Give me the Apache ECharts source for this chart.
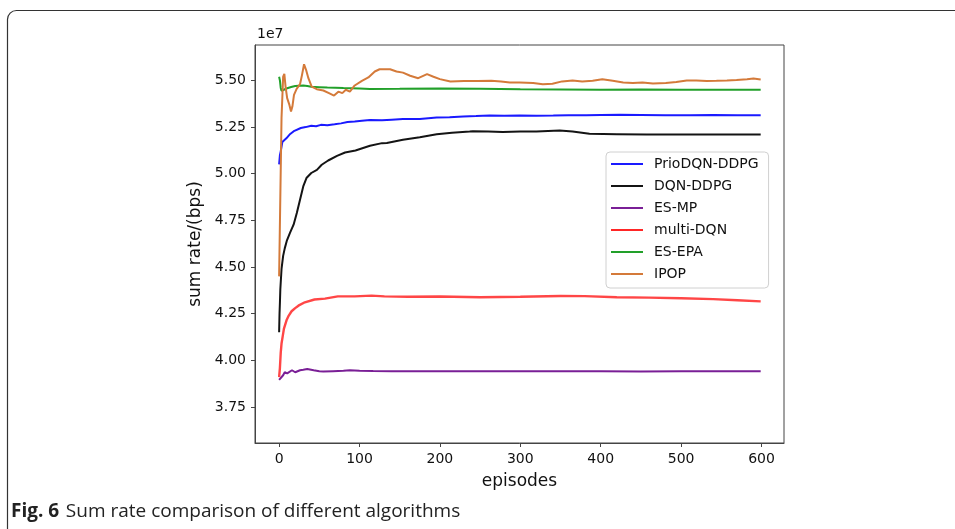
<!DOCTYPE html>
<html>
<head>
<meta charset="utf-8">
<script src="https://cdn.jsdelivr.net/npm/echarts@6/dist/echarts.min.js"></script>
<style>
html,body{margin:0;padding:0;background:#fff;}
#chart{width:955px;height:529px;}
</style>
</head>
<body>
<div id="chart"></div>
<script>
// values in units of 1e7 bps
var xTicks = [0, 100, 200, 300, 400, 500, 600];
var yTicks = [3.75, 4.00, 4.25, 4.50, 4.75, 5.00, 5.25, 5.50];
var seriesNames = ['PrioDQN-DDPG', 'DQN-DDPG', 'ES-MP', 'multi-DQN', 'ES-EPA', 'IPOP'];

var prioEp  = [0, 1, 2, 4, 6, 9, 13, 19, 27, 33, 40, 46, 52, 60, 69, 77, 85, 94, 103, 113, 128, 140, 154, 175, 196, 212, 229, 245, 262, 280, 299, 320, 341, 360, 382, 400, 424, 450, 480, 510, 540, 570, 599];
var prioVal = [5.05, 5.10, 5.12, 5.17, 5.18, 5.19, 5.21, 5.23, 5.245, 5.25, 5.257, 5.255, 5.262, 5.26, 5.265, 5.27, 5.277, 5.28, 5.284, 5.288, 5.287, 5.29, 5.293, 5.293, 5.301, 5.303, 5.307, 5.309, 5.312, 5.311, 5.312, 5.311, 5.312, 5.313, 5.314, 5.315, 5.316, 5.315, 5.314, 5.314, 5.315, 5.314, 5.314];

var dqnEp  = [0, 0.5, 1, 1.5, 3, 5, 7, 9.5, 13.5, 18, 22, 26, 30, 34, 40, 47, 53, 61, 72, 82, 95, 113, 128, 134, 154, 175, 196, 215, 237, 241, 260, 278, 300, 320, 349, 365, 386, 420, 457, 500, 550, 599];
var dqnVal = [4.15, 4.25, 4.31, 4.38, 4.49, 4.56, 4.60, 4.64, 4.683, 4.727, 4.79, 4.861, 4.932, 4.977, 5.004, 5.021, 5.048, 5.071, 5.096, 5.114, 5.125, 5.15, 5.164, 5.165, 5.182, 5.196, 5.212, 5.22, 5.226, 5.228, 5.226, 5.224, 5.226, 5.226, 5.232, 5.226, 5.214, 5.212, 5.21, 5.21, 5.21, 5.21];

var esmpEp  = [0, 2, 5, 7, 10, 12, 16, 20, 26, 30, 35, 43, 50, 55, 67, 80, 88, 100, 117, 140, 158, 199, 250, 300, 350, 400, 450, 500, 550, 599];
var esmpVal = [3.895, 3.905, 3.92, 3.936, 3.93, 3.924, 3.947, 3.936, 3.947, 3.95, 3.954, 3.947, 3.942, 3.94, 3.942, 3.944, 3.947, 3.944, 3.943, 3.942, 3.941, 3.942, 3.942, 3.941, 3.941, 3.941, 3.94, 3.941, 3.941, 3.941];

var mdqnEp  = [0, 1, 2, 3, 4.5, 6, 9.5, 12, 15.5, 20, 24, 32, 44, 57, 73, 94, 115, 131, 160, 200, 250, 300, 350, 380, 420, 460, 500, 540, 570, 599];
var mdqnVal = [3.91, 3.96, 4.04, 4.09, 4.13, 4.17, 4.218, 4.24, 4.263, 4.28, 4.293, 4.311, 4.326, 4.331, 4.343, 4.343, 4.347, 4.343, 4.341, 4.342, 4.338, 4.341, 4.345, 4.344, 4.338, 4.336, 4.333, 4.328, 4.322, 4.316];

var esepaEp  = [0, 1, 2, 3, 5, 10, 15, 20, 25, 30, 35, 40, 50, 60, 80, 100, 113, 150, 200, 250, 300, 350, 400, 450, 500, 550, 599];
var esepaVal = [5.52, 5.50, 5.46, 5.445, 5.45, 5.458, 5.465, 5.47, 5.472, 5.473, 5.47, 5.466, 5.464, 5.462, 5.459, 5.457, 5.454, 5.455, 5.457, 5.455, 5.453, 5.452, 5.45, 5.451, 5.45, 5.45, 5.45];

var ipopEp  = [0, 1.5, 3, 5, 6.5, 8, 10, 12.8, 14.8, 16.5, 18.5, 21.8, 26, 28.5, 31, 33.5, 36.4, 40.5, 46.8, 55, 62, 68.3, 73.7, 78.6, 83, 88, 94, 103, 111, 119, 125, 138, 146, 154, 163, 173, 184, 192, 200, 213, 230, 247, 264, 276, 287, 299, 316, 328, 340, 352, 365, 377, 390, 402, 415, 428, 440, 452, 465, 481, 494, 507, 519, 532, 544, 557, 569, 582, 590, 599];
var ipopVal = [4.45, 4.45, 5.30, 5.52, 5.535, 5.467, 5.405, 5.369, 5.334, 5.36, 5.423, 5.455, 5.48, 5.53, 5.587, 5.557, 5.512, 5.467, 5.453, 5.446, 5.432, 5.419, 5.44, 5.432, 5.45, 5.44, 5.473, 5.498, 5.516, 5.548, 5.56, 5.56, 5.548, 5.542, 5.525, 5.512, 5.534, 5.52, 5.507, 5.494, 5.497, 5.497, 5.498, 5.495, 5.489, 5.489, 5.486, 5.48, 5.482, 5.495, 5.50, 5.495, 5.498, 5.507, 5.498, 5.489, 5.486, 5.489, 5.484, 5.486, 5.492, 5.50, 5.50, 5.497, 5.498, 5.50, 5.503, 5.507, 5.51, 5.505];

function pairs(xs, ys) { return xs.map(function (x, i) { return [x, ys[i]]; }); }

var colors = ['#1a1aff', '#141414', '#7a1f96', '#ff2626', '#22a02a', '#d47a3a'];
var dataSets = [pairs(prioEp, prioVal), pairs(dqnEp, dqnVal), pairs(esmpEp, esmpVal), pairs(mdqnEp, mdqnVal), pairs(esepaEp, esepaVal), pairs(ipopEp, ipopVal)];

var font = 'DejaVu Sans';
var chart = echarts.init(document.getElementById('chart'), null, {renderer: 'canvas'});
var series = seriesNames.map(function (n, i) {
  return {
    name: n, type: 'line', data: dataSets[i], symbol: 'none', smooth: false,
    lineStyle: {color: colors[i], width: i === 3 ? 2.4 : 2, opacity: i === 3 ? 0.85 : 1},
    itemStyle: {color: colors[i]},
    animation: false
  };
});

chart.setOption({
  backgroundColor: '#fff',
  animation: false,
  grid: {left: 255, top: 45, width: 529, height: 398, show: true, borderColor: '#444', borderWidth: 1, backgroundColor: 'transparent'},
  xAxis: {
    type: 'value', min: -30, max: 628,
    name: 'episodes', nameLocation: 'middle', nameGap: 30,
    nameTextStyle: {fontFamily: font, fontSize: 17, color: '#111'},
    axisLine: {show: true, onZero: false, lineStyle: {color: '#444'}},
    axisTick: {show: true, length: 4, lineStyle: {color: '#444'}, customValues: xTicks},
    axisLabel: {fontFamily: font, fontSize: 14, color: '#111', margin: 9, customValues: xTicks},
    splitLine: {show: false}
  },
  yAxis: {
    type: 'value', min: 3.557, max: 5.69,
    name: 'sum rate/(bps)', nameLocation: 'middle', nameGap: 50,
    nameTextStyle: {fontFamily: font, fontSize: 17, color: '#111'},
    axisLine: {show: true, onZero: false, lineStyle: {color: '#444'}},
    axisTick: {show: true, length: 4, lineStyle: {color: '#444'}, customValues: yTicks},
    axisLabel: {fontFamily: font, fontSize: 14, color: '#111', margin: 9, customValues: yTicks,
      formatter: function (v) { return v.toFixed(2); }},
    splitLine: {show: false}
  },
  legend: {
    orient: 'vertical', left: 606, top: 152,
    data: seriesNames,
    icon: 'path://M0,0L32,0L32,2L0,2Z',
    itemWidth: 32, itemHeight: 2, itemGap: 8,
    padding: [5, 10, 7, 5],
    backgroundColor: '#fff', borderColor: '#d0d0d0', borderWidth: 1, borderRadius: 4,
    textStyle: {fontFamily: font, fontSize: 14, lineHeight: 14, color: '#111', padding: [0, 0, 0, 6]}
  },
  graphic: [
    {type: 'rect', silent: true, shape: {x: 7.5, y: 10.5, width: 1000, height: 600, r: [9, 0, 0, 0]},
      style: {fill: 'none', stroke: '#333', lineWidth: 1.2}},
    {type: 'text', left: 257, top: 27, style: {text: '1e7', font: '14px "DejaVu Sans"', fill: '#111'}},
    {type: 'text', left: 11, top: 502, style: {
      text: '{b|Fig. 6}  {r|Sum rate comparison of different algorithms}',
      rich: {
        b: {fontFamily: 'Open Sans', fontWeight: 'bold', fontSize: 19, fill: '#222'},
        r: {fontFamily: 'Open Sans', fontSize: 19, fill: '#222'}
      }
    }}
  ],
  series: series
});
</script>
</body>
</html>
